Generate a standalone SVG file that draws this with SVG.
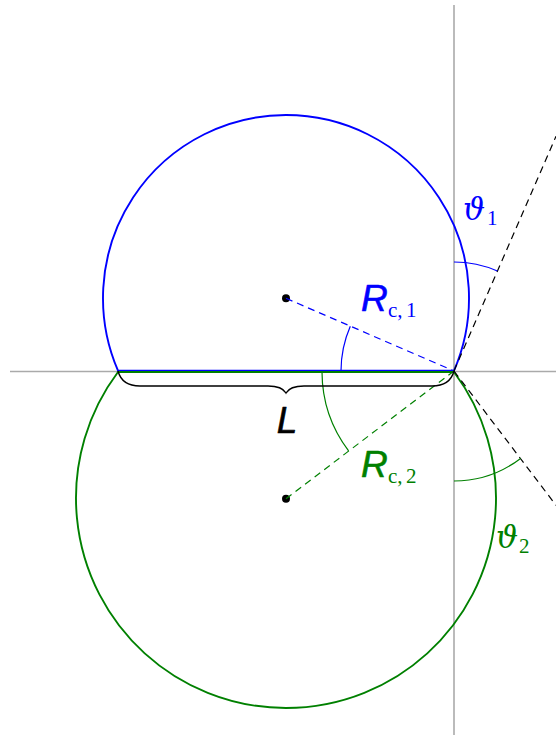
<svg xmlns="http://www.w3.org/2000/svg" width="556" height="735" viewBox="0 0 556 735">
<style>
.axis{stroke:#aaaaaa;stroke-width:1.6;fill:none}
.blue{stroke:#0000ff;fill:none}
.green{stroke:#008000;fill:none}
.circ{stroke-width:1.9}
.ang{stroke-width:1.2}
.dash{stroke-dasharray:7 5;stroke-width:1.2}
.tan{stroke:#000;stroke-width:1.2;stroke-dasharray:7 5;fill:none}
.brace{stroke:#000;stroke-width:1.4;fill:none}
.big{font-family:"Liberation Sans",Arial,sans-serif;font-style:italic;font-size:37px;stroke-width:0.6;stroke-linejoin:round}
.sub{font-family:"Liberation Serif","DejaVu Serif",serif;font-size:21px}
.th{font-family:"DejaVu Serif",serif;font-style:italic;font-size:31px}
.bt{fill:#0000ff}
.gt{fill:#008000}
.big.bt{stroke:#0000ff}
.big.gt{stroke:#008000}
.big.kt{stroke:#000;fill:#000}
</style>
<rect width="556" height="735" fill="#ffffff"/>
<g id="axes">
<line class="axis" x1="10" y1="371.5" x2="556" y2="371.5"/>
<line class="axis" x1="454" y1="5" x2="454" y2="735"/>
</g>
<g id="circle1">
<path class="blue circ" d="M118,370.6 A183,183 0 1,1 454,370.6 Z"/>
<circle cx="286" cy="298.3" r="4" fill="#000"/>
</g>
<g id="circle2">
<path class="green circ" d="M118,372 A210,210 0 1,0 454,372 Z"/>
<circle cx="286" cy="498.7" r="4" fill="#000"/>
</g>
<g id="connectors">
<line class="blue dash" x1="286" y1="298.3" x2="454" y2="371"/>
<line class="green dash" x1="286" y1="498.7" x2="454" y2="371"/>
<line class="tan" x1="454" y1="371" x2="556" y2="136.3"/>
<line class="tan" x1="454" y1="371" x2="556" y2="505.3"/>
<path class="blue ang" d="M341,371 A113,113 0 0,1 350.3,326.2"/>
<path class="green ang" d="M322,372 A132,132 0 0,0 348.6,450.9"/>
<path class="blue ang" d="M454,262 A109,109 0 0,1 497.4,271"/>
<path class="green ang" d="M454,481 A110,110 0 0,0 520.6,458.4"/>
<path class="brace" d="M118,371 Q122,386 140,386 L268,386 Q282,386 286,393 Q290,386 304,386 L432,386 Q450,386 454,371"/>
</g>
<g id="labels">
<text class="big kt" x="287" y="433" text-anchor="middle">L</text>
<text class="big bt" x="361" y="311">R</text>
<text class="sub bt" x="388" y="316.5">c,<tspan x="406">1</tspan></text>
<text class="big gt" x="361" y="477">R</text>
<text class="sub gt" x="388" y="482.5">c,<tspan x="406">2</tspan></text>
<text class="th bt" x="463" y="220">ϑ</text>
<text class="sub bt" x="487" y="225">1</text>
<text class="th gt" x="496" y="548">ϑ</text>
<text class="sub gt" x="519" y="553">2</text>
</g>
</svg>
